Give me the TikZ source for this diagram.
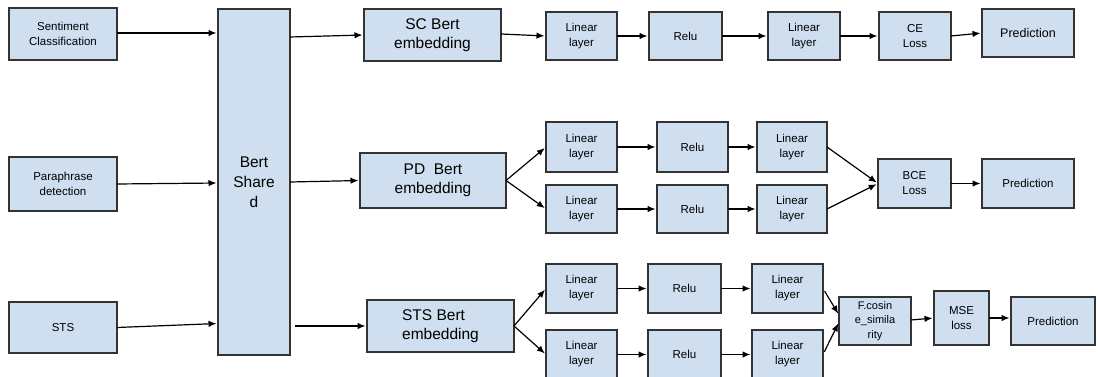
\documentclass[tikz,border=0pt]{standalone}
\usepackage{fontspec}
\setmainfont{Liberation Sans}
\usetikzlibrary{arrows.meta}
\definecolor{boxfill}{HTML}{CFDFEF}
\definecolor{boxline}{HTML}{333333}
\tikzset{
  box/.style={draw=boxline, fill=boxfill, line width=1.3pt, inner sep=0pt, outer sep=0pt,
    align=center, font=\fontsize{11.5}{15}\selectfont},
  bigbox/.style={box, font=\fontsize{15.5}{18.5}\selectfont},
  conn/.style={line width=1.2pt, -{Latex[length=8pt,width=6.5pt]}, shorten >=1.5pt},
}
\begin{document}
\begin{tikzpicture}[x=1pt,y=-1pt]
\useasboundingbox (0,0) rectangle (1098,377);
\clip (0,0) rectangle (1098,377);
\fill[white] (0,0) rectangle (1098,377);
% left inputs
\node[box, minimum width=108pt, minimum height=52pt] (sc) at (63,34) {Sentiment\\Classification};
\node[box, minimum width=108pt, minimum height=54pt] (pd) at (63,184) {Paraphrase\\detection};
\node[box, minimum width=108pt, minimum height=51pt] (sts) at (63,327.5) {STS};
% shared
\node[box, font=\fontsize{15.5}{20}\selectfont, minimum width=72pt, minimum height=346pt] (bert) at (254,182) {Bert\\Share\\d};
% SC row
\node[bigbox, minimum width=137pt, minimum height=52pt] (scemb) at (432.5,35) {SC Bert\\embedding};
\node[box, minimum width=71pt, minimum height=48pt] (sclina) at (581.5,36) {Linear\\layer};
\node[box, minimum width=73pt, minimum height=48pt] (screlu) at (685.5,36) {Relu};
\node[box, minimum width=72pt, minimum height=48pt] (sclinb) at (804,36) {Linear\\layer};
\node[box, minimum width=72pt, minimum height=48pt] (ce) at (915,36) {CE\\Loss};
\node[box, font=\fontsize{12.5}{15}\selectfont, minimum width=92pt, minimum height=48pt] (scpred) at (1028,33) {Prediction};
% PD row
\node[bigbox, minimum width=146pt, minimum height=55pt] (pdemb) at (433,180.5) {PD\ \ Bert\\embedding};
\node[box, minimum width=71pt, minimum height=50pt] (pdlinaa) at (581.5,147) {Linear\\layer};
\node[box, minimum width=71pt, minimum height=48pt] (pdlinab) at (581.5,209) {Linear\\layer};
\node[box, minimum width=71pt, minimum height=50pt] (pdrelua) at (692.5,147) {Relu};
\node[box, minimum width=71pt, minimum height=48pt] (pdrelub) at (692.5,209) {Relu};
\node[box, minimum width=70pt, minimum height=50pt] (pdlinba) at (792,147) {Linear\\layer};
\node[box, minimum width=70pt, minimum height=48pt] (pdlinbb) at (792,209) {Linear\\layer};
\node[box, minimum width=73pt, minimum height=49pt] (bce) at (914.5,183.5) {BCE\\Loss};
\node[box, minimum width=92pt, minimum height=49pt] (pdpred) at (1028,183.5) {Prediction};
% STS row
\node[bigbox, align=left, minimum width=147pt, minimum height=52pt] (stsemb) at (440.5,326) {STS Bert\\embedding};
\node[box, minimum width=71pt, minimum height=49pt] (stslinaa) at (581.5,288.5) {Linear\\layer};
\node[box, minimum width=71pt, minimum height=49pt] (stslinab) at (581.5,354.5) {Linear\\layer};
\node[box, minimum width=73pt, minimum height=49pt] (stsrelua) at (684.5,288.5) {Relu};
\node[box, minimum width=73pt, minimum height=49pt] (stsrelub) at (684.5,354.5) {Relu};
\node[box, minimum width=71pt, minimum height=49pt] (stslinba) at (787.5,288.5) {Linear\\layer};
\node[box, minimum width=71pt, minimum height=49pt] (stslinbb) at (787.5,354.5) {Linear\\layer};
\node[box, font=\fontsize{11}{14.5}\selectfont, minimum width=72pt, minimum height=48pt] (cos) at (875,321) {F.cosin\\e\_simila\\rity};
\node[box, minimum width=55pt, minimum height=54pt] (mse) at (961.5,318) {MSE\\loss};
\node[box, minimum width=84pt, minimum height=48pt] (stspred) at (1053,321) {Prediction};
% inputs to shared
\draw[conn] ([yshift=1pt]sc.east) -- ([yshift=1pt]bert.west |- sc.east);
\draw[conn] (pd.east) -- ([yshift=1pt]bert.west |- pd.east);
\draw[conn] (sts.east) -- ([yshift=4pt]bert.west |- sts.east);
% shared to embeddings
\draw[conn] ([yshift=-2pt]bert.east |- scemb.west) -- (scemb.west);
\draw[conn] ([yshift=-1.5pt]bert.east |- pdemb.west) -- (pdemb.west);
\draw[conn, shorten <=5pt] (bert.east |- stsemb.west) -- (stsemb.west);
% SC chain
\draw[conn] ([yshift=1pt]scemb.east) -- (sclina.west);
\draw[conn] (sclina.east) -- (screlu.west);
\draw[conn] (screlu.east) -- (sclinb.west);
\draw[conn] (sclinb.east) -- (ce.west);
\draw[conn] (ce.east) -- (scpred.west);
% PD chain
\draw[conn] (pdemb.east) -- (pdlinaa.west);
\draw[conn] (pdemb.east) -- (pdlinab.west);
\draw[conn] (pdlinaa.east) -- (pdrelua.west);
\draw[conn] (pdlinab.east) -- (pdrelub.west);
\draw[conn] (pdrelua.east) -- (pdlinba.west);
\draw[conn] (pdrelub.east) -- (pdlinbb.west);
\draw[conn] (pdlinba.east) -- (bce.west);
\draw[conn] (pdlinbb.east) -- (bce.west);
\draw[conn] (bce.east) -- (pdpred.west);
% STS chain
\draw[conn] (stsemb.east) -- (stslinaa.west);
\draw[conn] (stsemb.east) -- (stslinab.west);
\draw[conn] (stslinaa.east) -- (stsrelua.west);
\draw[conn] (stslinab.east) -- (stsrelub.west);
\draw[conn] (stsrelua.east) -- (stslinba.west);
\draw[conn] (stsrelub.east) -- (stslinbb.west);
\draw[conn, shorten <=3pt] (stslinba.east) -- ([yshift=6pt]cos.west);
\draw[conn, shorten <=3pt] (stslinbb.east) -- ([yshift=-1pt]cos.west);
\draw[conn] ([yshift=1pt]cos.east) -- (mse.west);
\draw[conn] (mse.east) -- ([yshift=3pt]stspred.west);
\end{tikzpicture}
\end{document}
